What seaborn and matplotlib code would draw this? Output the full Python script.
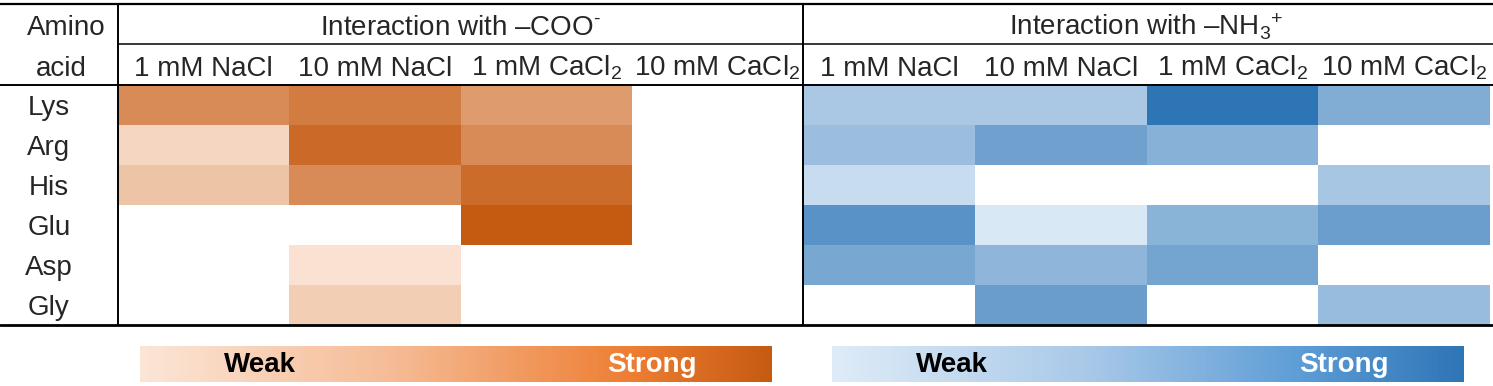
import numpy as np
import pandas as pd
import seaborn as sns
import matplotlib.pyplot as plt
from matplotlib.colors import LinearSegmentedColormap
from matplotlib.cm import ScalarMappable
from matplotlib.colors import Normalize

# table data (relative interaction strength, 0 = weak, 1 = strong, nan = none)
amino_acids = ['Lys', 'Arg', 'His', 'Glu', 'Asp', 'Gly']
conditions = ['1 mM NaCl', '10 mM NaCl', '1 mM CaCl$_2$', '10 mM CaCl$_2$']
coo_values = [
    [0.65, 0.75, 0.53, np.nan],
    [0.11, 0.88, 0.65, np.nan],
    [0.24, 0.65, 0.87, np.nan],
    [np.nan, np.nan, 1.00, np.nan],
    [np.nan, 0.03, np.nan, np.nan],
    [np.nan, 0.17, np.nan, np.nan],
]
nh3_values = [
    [0.30, 0.30, 1.00, 0.53],
    [0.38, 0.63, 0.49, np.nan],
    [0.13, np.nan, np.nan, 0.31],
    [0.75, 0.03, 0.48, 0.65],
    [0.58, 0.45, 0.60, np.nan],
    [np.nan, 0.66, np.nan, 0.40],
]
group_titles = [r'Interaction with –COO$^{\text{-}}$', 'Interaction with –NH$_3$$^{+}$']
legend_labels = ['Weak', 'Strong']

sns.set_style('white')
plt.rcParams['font.family'] = ['Liberation Sans', 'DejaVu Sans']
plt.rcParams['mathtext.fontset'] = 'custom'
plt.rcParams['mathtext.rm'] = 'Liberation Sans'
plt.rcParams['mathtext.it'] = 'Liberation Sans:italic'
plt.rcParams['mathtext.default'] = 'regular'

orange_cells = LinearSegmentedColormap.from_list('oc', ['#fbe5d6', '#c55a11'])
blue_cells = LinearSegmentedColormap.from_list('bc', ['#deebf7', '#2e75b6'])
orange_bar = LinearSegmentedColormap.from_list(
    'ob', [(0, '#fbe5d6'), (0.4, '#f5bb95'), (0.78, '#ed7d31'), (1, '#c55a11')])
blue_bar = LinearSegmentedColormap.from_list(
    'bb', [(0, '#deebf7'), (0.4, '#a9c9e8'), (0.75, '#5b9bd5'), (1, '#2e75b6')])

W, H = 1493, 386
fig = plt.figure(figsize=(W / 100, H / 100), dpi=100)

def box(x0, y0, x1, y1):
    return [x0 / W, 1 - y1 / H, (x1 - x0) / W, (y1 - y0) / H]

fs = 20
ax_o = fig.add_axes(box(118, 85, 803, 325))
ax_b = fig.add_axes(box(803, 85, 1490, 325))

for ax, vals, cmap, title in [(ax_o, coo_values, orange_cells, group_titles[0]),
                              (ax_b, nh3_values, blue_cells, group_titles[1])]:
    df = pd.DataFrame(vals, index=amino_acids, columns=conditions)
    sns.heatmap(df, ax=ax, cmap=cmap, vmin=0, vmax=1, cbar=False,
                linewidths=0, xticklabels=True, yticklabels=ax is ax_o)
    ax.xaxis.tick_top()
    ax.tick_params(axis='x', length=0, pad=6.5, labelsize=fs, rotation=0)
    for t in ax.get_xticklabels():
        t.set_va('baseline')
    for s in ax.spines.values():
        s.set_visible(False)
    ax.set_xlabel('')
    ax.set_ylabel('')
    ax.text(0.5, 1.208, title, transform=ax.transAxes, ha='center',
            va='baseline', fontsize=fs)

ax_o.tick_params(axis='y', length=0, pad=49.7, labelsize=fs, rotation=0)
for t in ax_o.get_yticklabels():
    t.set_ha('center')
    t.set_va('center_baseline')

# "Amino acid" header
fig.text(66 / W, 1 - 35 / H, 'Amino', ha='center', va='baseline', fontsize=fs)
fig.text(61 / W, 1 - 76 / H, 'acid', ha='center', va='baseline', fontsize=fs)

# table rules
ov = fig.add_axes([0, 0, 1, 1])
ov.set_xlim(0, W)
ov.set_ylim(H, 0)
ov.set_axis_off()
ov.patch.set_alpha(0)
ov.plot([0, W], [4, 4], color='black', lw=1.6)
ov.plot([118, W], [44, 44], color='black', lw=1.1)
ov.plot([0, W], [85, 85], color='black', lw=1.4)
ov.plot([0, W], [325, 325], color='black', lw=2.0)
ov.plot([118, 118], [4, 325], color='black', lw=1.4)
ov.plot([803, 803], [4, 325], color='black', lw=1.4)

# legend bars
for (x0, x1), cmap in [((140, 772), orange_bar), ((832, 1464), blue_bar)]:
    cax = fig.add_axes(box(x0, 346, x1, 382))
    cb = fig.colorbar(ScalarMappable(norm=Normalize(0, 1), cmap=cmap),
                      cax=cax, orientation='horizontal')
    cb.set_ticks([])
    cb.outline.set_visible(False)
    for xpos, lab, col in [(0.19, legend_labels[0], 'black'),
                           (0.81, legend_labels[1], 'white')]:
        cax.text(xpos, 0.47, lab, transform=cax.transAxes, ha='center',
                 va='center', fontsize=20, fontweight='bold', color=col,
                 family=['Liberation Sans Narrow', 'Liberation Sans'])

fig.savefig('out.png', dpi=100)
